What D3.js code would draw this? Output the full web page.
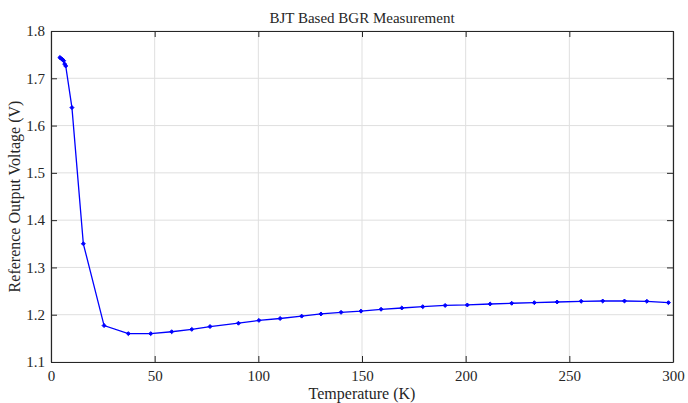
<!DOCTYPE html>
<html>
<head>
<meta charset="utf-8">
<script src="https://cdn.jsdelivr.net/npm/d3@7"></script>
<style>
  html, body { margin: 0; padding: 0; background: #fff; }
  svg { display: block; }
  svg text { font-family: "Liberation Serif", "DejaVu Serif", serif !important; fill: #262626; }
</style>
</head>
<body>
<svg id="chart" width="688" height="403"></svg>
<script>
// Measured reference voltage versus temperature
const temperature = [4.3, 4.8, 5.5, 6.1, 6.6, 7.1, 10.1, 15.6, 25.6, 37.3, 48.1, 58.2, 67.9, 76.7, 90.4,
  100.3, 110.5, 120.9, 130.2, 139.9, 149.5, 159.2, 169.2, 179.3, 190.1,
  200.8, 211.8, 222.2, 233.1, 244.1, 255.7, 266.1, 276.6, 287.4, 297.8];
const voltage = [1.744, 1.742, 1.740, 1.737, 1.730, 1.726, 1.638, 1.350, 1.177, 1.160, 1.160, 1.164, 1.169, 1.175, 1.182,
  1.188, 1.192, 1.197, 1.2016, 1.205, 1.2075, 1.2115, 1.2142, 1.217, 1.2196,
  1.2206, 1.2227, 1.2242, 1.2255, 1.2269, 1.2284, 1.229, 1.229, 1.2284, 1.2255];
const xTicks = [0, 50, 100, 150, 200, 250, 300];
const yTicks = [1.1, 1.2, 1.3, 1.4, 1.5, 1.6, 1.7, 1.8];
const titleText = "BJT Based BGR Measurement";
const xLabel = "Temperature (K)";
const yLabel = "Reference Output Voltage (V)";

const margin = { left: 51, right: 15, top: 31, bottom: 41 };
const W = 688, H = 403;
const svg = d3.select("#chart");

const x = d3.scaleLinear().domain([0, 300]).range([margin.left, W - margin.right]);
const y = d3.scaleLinear().domain([1.1, 1.8]).range([H - margin.bottom, margin.top]);

// grid
const grid = svg.append("g");
grid.selectAll(".gx").data(xTicks).join("line")
  .attr("x1", d => x(d)).attr("x2", d => x(d))
  .attr("y1", y(1.1)).attr("y2", y(1.8))
  .attr("stroke", "#dfdfdf").attr("stroke-width", 1);
grid.selectAll(".gy").data(yTicks).join("line")
  .attr("x1", x(0)).attr("x2", x(300))
  .attr("y1", d => y(d)).attr("y2", d => y(d))
  .attr("stroke", "#dfdfdf").attr("stroke-width", 1);

// axes with inward ticks
const tickLen = 6;
const fmtY = d3.format(".1f");
const axBottom = svg.append("g").attr("transform", `translate(0,${y(1.1)})`)
  .call(d3.axisBottom(x).tickValues(xTicks).tickSizeInner(-tickLen).tickSizeOuter(0).tickPadding(10));
const axTop = svg.append("g").attr("transform", `translate(0,${y(1.8)})`)
  .call(d3.axisTop(x).tickValues(xTicks).tickSizeInner(-tickLen).tickSizeOuter(0).tickFormat(""));
const axLeft = svg.append("g").attr("transform", `translate(${x(0)},0)`)
  .call(d3.axisLeft(y).tickValues(yTicks).tickSizeInner(-tickLen).tickSizeOuter(0).tickPadding(10).tickFormat(fmtY));
const axRight = svg.append("g").attr("transform", `translate(${x(300)},0)`)
  .call(d3.axisRight(y).tickValues(yTicks).tickSizeInner(-tickLen).tickSizeOuter(0).tickFormat(""));

[axBottom, axTop, axLeft, axRight].forEach(g => {
  g.attr("font-family", null);
  g.select(".domain").attr("stroke", "#262626").attr("stroke-width", 1.2);
  g.selectAll(".tick line").attr("stroke", "#262626").attr("stroke-width", 1);
  g.selectAll(".tick text").style("font-family", "'Liberation Serif', serif").style("font-size", "15px").attr("fill", "#262626");
});
axLeft.selectAll(".tick text").attr("dx", 4);
axBottom.selectAll(".tick text").attr("dy", "0.6em");

// data line
const pts = temperature.map((t, i) => [t, voltage[i]]);
svg.append("path").datum(pts)
  .attr("fill", "none").attr("stroke", "#0000ff").attr("stroke-width", 1.3)
  .attr("d", d3.line().x(d => x(d[0])).y(d => y(d[1])));

// markers
const sym = d3.symbol().type(d3.symbolDiamond2).size(10);
svg.append("g").selectAll("path").data(pts).join("path")
  .attr("transform", d => `translate(${x(d[0])},${y(d[1])})`)
  .attr("d", sym)
  .attr("fill", "#0000ff").attr("stroke", "#0000ff").attr("stroke-width", 1);

// titles
svg.append("text").attr("x", (x(0) + x(300)) / 2).attr("y", 23)
  .attr("text-anchor", "middle").style("font-size", "15px").text(titleText);
svg.append("text").attr("x", (x(0) + x(300)) / 2).attr("y", 399)
  .attr("text-anchor", "middle").style("font-size", "16px").text(xLabel);
svg.append("text")
  .attr("transform", `translate(20,${(y(1.1) + y(1.8)) / 2}) rotate(-90)`)
  .attr("text-anchor", "middle").style("font-size", "16px").text(yLabel);
</script>
</body>
</html>
